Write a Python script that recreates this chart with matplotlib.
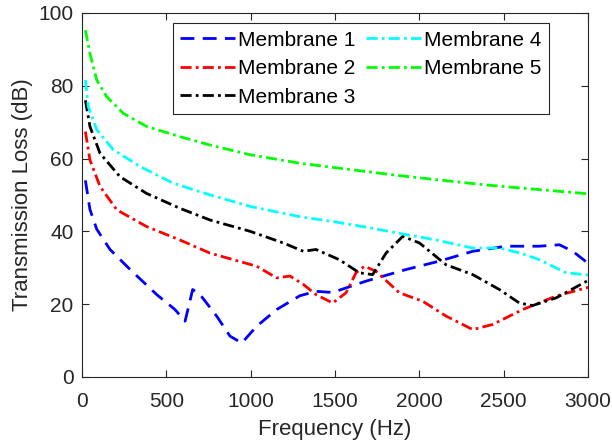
import matplotlib
matplotlib.use("Agg")
import matplotlib.pyplot as plt

plt.rcParams['font.family'] = ['Liberation Sans', 'DejaVu Sans']

# Membrane 1 (blue dashed)
f1 = [20, 47, 87, 166, 285, 443, 551, 611, 656, 700, 798, 877, 947, 1035, 1154, 1292, 1387, 1486, 1683, 1921, 2118, 2316, 2513, 2711, 2830, 2909, 3000]
tl1 = [54, 46, 40.6, 35, 29.5, 22.6, 18.5, 15.3, 24, 22.6, 16.7, 11.2, 9.3, 13.9, 18.5, 22.3, 23.5, 23.2, 26.3, 29.5, 31.8, 34.5, 35.9, 35.9, 36.3, 34.5, 31.2]
# Membrane 2 (red dash-dot)
f2 = [20, 47, 107, 206, 383, 581, 759, 897, 1035, 1154, 1233, 1312, 1387, 1486, 1565, 1624, 1674, 1743, 1881, 2019, 2158, 2316, 2434, 2612, 2810, 3000]
tl2 = [67.4, 59.6, 52.3, 45.9, 41.3, 37.6, 34, 32.2, 30.4, 27.2, 27.7, 25.4, 22.6, 20.3, 23.1, 28.6, 30.4, 29, 23.1, 20.8, 16.7, 13, 14.4, 18.5, 22.2, 24.6]
# Membrane 3 (black dash-dot)
f3 = [20, 47, 107, 225, 383, 581, 759, 996, 1193, 1312, 1387, 1525, 1644, 1723, 1802, 1901, 2000, 2158, 2316, 2474, 2592, 2671, 2810, 3000]
tl3 = [76, 68.8, 61.4, 55, 50.4, 46.3, 43.1, 40, 36.8, 34.5, 35, 32.2, 28.6, 28.1, 34, 38.6, 36.8, 30.8, 28.1, 24, 20.3, 19.6, 21.7, 26.5]
# Membrane 4 (cyan dash-dot)
f4 = [20, 37, 87, 186, 344, 541, 759, 1000, 1292, 1500, 1700, 1921, 2100, 2316, 2474, 2600, 2711, 2869, 3000]
tl4 = [81.6, 74.3, 67.9, 62.4, 57.8, 53.2, 50, 46.8, 44, 42.6, 41, 39.1, 37.6, 35.4, 35.4, 34, 32.2, 28.6, 28]
# Membrane 5 (green dash-dot)
f5 = [20, 47, 87, 146, 245, 383, 581, 759, 1000, 1292, 1600, 1900, 2118, 2400, 2700, 3000]
tl5 = [95.3, 88.9, 81.6, 77, 72.4, 68.8, 66, 63.7, 61, 58.7, 56.9, 55.2, 54.1, 52.7, 51.5, 50.3]

labels = ['Membrane 1', 'Membrane 2', 'Membrane 3', 'Membrane 4', 'Membrane 5']
xticks = [0, 500, 1000, 1500, 2000, 2500, 3000]
yticks = [0, 20, 40, 60, 80, 100]

fig = plt.figure(figsize=(6.12, 4.46), dpi=100)
ax = fig.add_axes([0.134, 0.155, 0.827, 0.816])

lw = 2.0
dd = (4, 1.5, 1, 1.5)
ax.plot(f1, tl1, color='#0000ff', lw=lw, dashes=(5, 3), label=labels[0])
ax.plot(f2, tl2, color='#ff0000', lw=lw, dashes=dd, label=labels[1])
ax.plot(f3, tl3, color='#000000', lw=lw, dashes=dd, label=labels[2])
ax.plot(f4, tl4, color='#00ffff', lw=lw, dashes=dd, label=labels[3])
ax.plot(f5, tl5, color='#00ff00', lw=lw, dashes=dd, label=labels[4])

ax.set_xlim(0, 3000)
ax.set_ylim(0, 100)
ax.set_xticks(xticks)
ax.set_yticks(yticks)
ax.tick_params(direction='in', top=True, right=True, labelsize=15, colors='#262626', length=5, width=0.8)
ax.tick_params(axis='x', pad=11)
ax.tick_params(axis='y', pad=6)
for s in ax.spines.values():
    s.set_color('#262626')
    s.set_linewidth(0.8)
ax.set_xlabel('Frequency (Hz)', fontsize=16, color='#262626', labelpad=6)
ax.set_ylabel('Transmission Loss (dB)', fontsize=16, color='#262626', labelpad=4)

leg = ax.legend(ncol=2, loc='upper left', bbox_to_anchor=(0.179, 0.971), fontsize=15,
                handlelength=2.65, handletextpad=0.15, columnspacing=0.5,
                labelspacing=0.45, borderpad=0.35, borderaxespad=0, fancybox=False,
                edgecolor='#262626', framealpha=1)
leg.get_frame().set_linewidth(0.8)

fig.savefig('out.png', dpi=100)
